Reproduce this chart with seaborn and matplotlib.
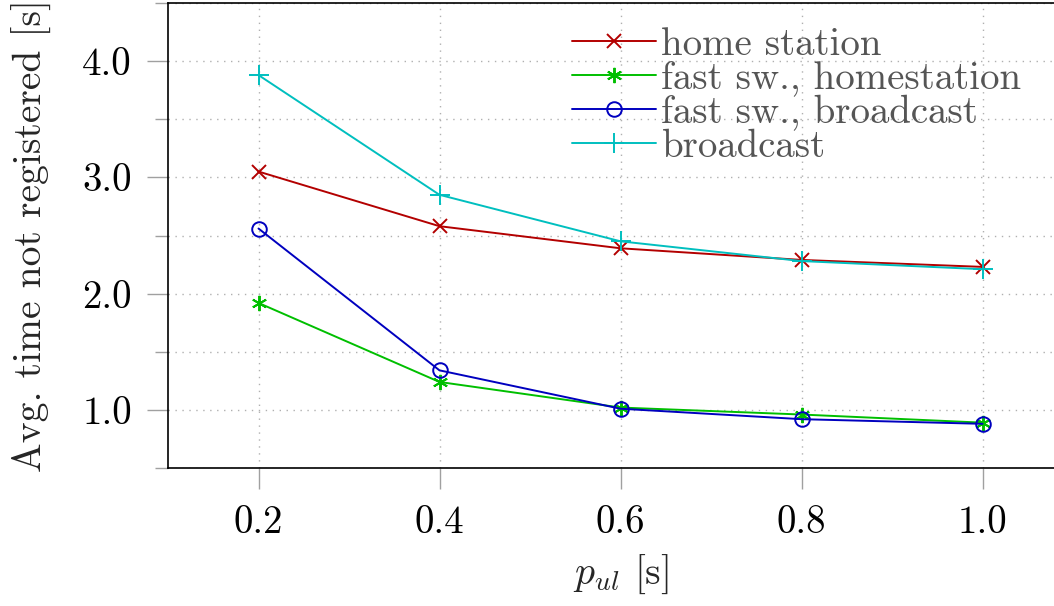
import matplotlib
matplotlib.use("Agg")
import matplotlib.pyplot as plt
import seaborn as sns
import pandas as pd
from matplotlib.ticker import MultipleLocator, FixedLocator, FormatStrFormatter

# data
p_ul = [0.2, 0.4, 0.6, 0.8, 1.0]
home_station = [3.05, 2.58, 2.39, 2.29, 2.23]
fast_sw_homestation = [1.92, 1.24, 1.02, 0.96, 0.89]
fast_sw_broadcast = [2.56, 1.34, 1.01, 0.92, 0.88]
broadcast = [3.88, 2.85, 2.45, 2.28, 2.21]

series_names = ["home station", "fast sw., homestation", "fast sw., broadcast", "broadcast"]
series_values = [home_station, fast_sw_homestation, fast_sw_broadcast, broadcast]
colors = ["#b30000", "#00bf00", "#0000bf", "#00bfbf"]
markers = ["x", (6, 2, 0), "o", "+"]
msizes = [10, 11, 10.5, 14]

sns.set_theme(style="white")
plt.rcParams["font.family"] = ["cmr10", "DejaVu Serif"]
plt.rcParams["mathtext.fontset"] = "cm"
plt.rcParams["axes.formatter.use_mathtext"] = True

fig = plt.figure(figsize=(10.54, 6.06), dpi=100)
ax = fig.add_axes([168 / 1054, (606 - 468) / 606, (1073 - 168) / 1054, 465 / 606])

for name, vals, c, m, ms in zip(series_names, series_values, colors, markers, msizes):
    df = pd.DataFrame({"x": p_ul, "y": vals})
    sns.lineplot(data=df, x="x", y="y", ax=ax, color=c, marker=m, markersize=ms,
                 mec=c, mfc="none", mew=1.4, linewidth=1.4, label=name)

ax.set_xlim(0.1, 1.1)
ax.set_ylim(0.5, 4.5)
ax.xaxis.set_major_locator(FixedLocator(p_ul))
ax.xaxis.set_major_formatter(FormatStrFormatter("%.1f"))
ax.yaxis.set_major_locator(MultipleLocator(1.0))
ax.yaxis.set_minor_locator(MultipleLocator(0.5))
ax.yaxis.set_major_formatter(FormatStrFormatter("%.1f"))

ax.grid(True, which="both", axis="y", color="#b0b0b0", linestyle=(0, (1, 4)), linewidth=1.0)
ax.grid(True, which="major", axis="x", color="#b0b0b0", linestyle=(0, (1, 4)), linewidth=1.0)
ax.set_axisbelow(True)

for s in ax.spines.values():
    s.set_color("black")
    s.set_linewidth(1.2)

ax.tick_params(axis="both", which="major", direction="out", length=15, width=1.0,
               color="#a0a0a0", labelsize=28, labelcolor="black",
               left=True, bottom=True)
ax.tick_params(axis="x", which="major", pad=12)
ax.tick_params(axis="y", which="major", pad=11)
ax.tick_params(axis="y", which="minor", direction="out", length=9.5, width=1.0,
               color="#a0a0a0", left=True)

ax.set_xlabel("$p_{ul}$ [s]", fontsize=28.5, labelpad=8)
ax.set_ylabel("Avg. time not registered [s]", fontsize=28.5, labelpad=22)

leg = ax.legend(loc="upper left", bbox_to_anchor=(572 / 1054, 1 - 27 / 606),
                bbox_transform=fig.transFigure, frameon=False, fontsize=28,
                labelcolor="#555555", handlelength=2.15, handletextpad=0.15,
                labelspacing=-0.05, borderpad=0, borderaxespad=0)

fig.savefig("out.png", dpi=100)
